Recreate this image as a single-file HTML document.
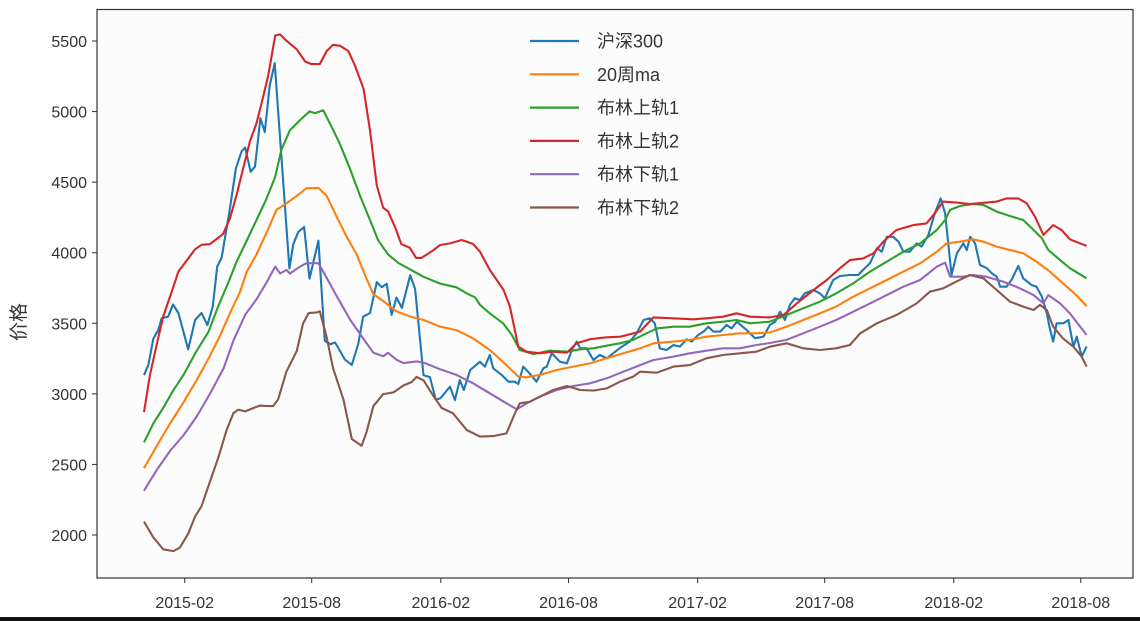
<!DOCTYPE html>
<html><head><meta charset="utf-8">
<style>
html,body{margin:0;padding:0;background:#fff;}
body{width:1140px;height:621px;overflow:hidden;position:relative;font-family:"WenQuanYi Zen Hei","Liberation Sans",sans-serif;}
#bottom-bar{position:absolute;left:0;top:617px;width:1140px;height:4px;background:#111;}
</style></head>
<body>
<svg id="chart" width="1140" height="617" xmlns="http://www.w3.org/2000/svg" style="position:absolute;left:0;top:0"></svg>
<div id="bottom-bar"></div>
<script>
// weeks since 2014-12-05
const closeW=[0,0.9,1.9,2.9,3.6,4.9,5.9,7,9,10.4,11.7,12.9,14,14.9,15.8,17.5,18.7,19.9,20.6,21.7,22.6,23.7,24.6,25.6,26.6,29.6,30.4,31.4,32.6,33.7,35.5,36.8,37.9,38.9,39.9,40.9,42.3,43.6,44.6,46,47.4,48.4,49.4,50.4,51.4,52.5,54.2,55.2,56.9,58.2,59.4,60.3,62.3,63.3,64.3,65.1,66.4,68.4,69.4,70.4,71.1,72.8,74.2,75.5,76.2,77.2,78.2,79.9,81.3,82,83,84.7,86.1,87.1,88.1,88.8,90.1,91.5,92.8,94.2,95.5,97.3,98.9,100.3,101.7,103,104,105,106.4,107.8,109.1,110.5,111.5,112.8,113.9,114.9,115.9,117.3,118.6,119.6,120.7,122.7,124.4,126.1,127.4,128.5,129.5,130.5,131.5,132.5,133.5,134.5,136.3,137.6,138.6,140.3,141.7,143.7,145.4,146.4,147.8,149.2,150.2,151.2,152.5,153.6,154.6,155.9,157.3,158.3,159.7,161,162.2,163.1,163.8,164.4,165.5,166.8,167.5,168.2,169.2,170.2,171.6,172.6,173.6,174.3,175.6,176.6,178,179,180.7,181.7,182.8,183.8,184.4,185.1,185.8,187.2,188.2,189.2,189.9,190.9,191.9];
const closeV=[3132,3206,3390,3450,3536,3547,3633,3573,3316,3523,3573,3487,3620,3902,3963,4317,4598,4720,4745,4573,4610,4953,4855,5185,5343,3889,4060,4146,4183,3816,4086,3376,3352,3364,3304,3243,3205,3352,3547,3573,3792,3756,3780,3560,3682,3609,3841,3743,3132,3119,2959,2968,3051,2956,3098,3027,3169,3228,3193,3275,3181,3134,3086,3086,3070,3193,3157,3086,3181,3193,3287,3228,3216,3311,3370,3323,3323,3240,3275,3252,3287,3335,3370,3429,3523,3535,3500,3323,3311,3346,3335,3387,3370,3417,3441,3476,3441,3441,3488,3464,3511,3452,3394,3405,3488,3511,3582,3523,3630,3677,3665,3712,3736,3712,3677,3807,3835,3842,3842,3878,3925,4031,4007,4113,4113,4078,4007,4007,4066,4043,4126,4279,4385,4279,4043,3842,3996,4066,4019,4113,4066,3913,3890,3854,3830,3759,3759,3807,3906,3819,3771,3759,3688,3571,3464,3370,3500,3500,3523,3335,3405,3263,3335];
const maW=[0,2.6,5.3,8,10.7,13.4,15.5,17.5,19.5,20.9,22.9,25,27,28.7,31.1,33.1,35.5,37.2,39.2,41.3,43.3,45.3,46.7,48.7,51.4,54.2,56.9,60.3,63.6,67,70.4,73.8,76.2,77.9,80.6,84,87.4,90.8,94.2,97.6,101,103.7,107.8,111.1,114.5,117.9,121.3,124.7,127.4,130.8,134.2,137.6,140.9,144.4,147.8,151.2,154.6,158,161.4,163.4,166.1,168.8,170.9,173.6,176.3,179,181.7,184.4,187.1,189.8,191.9];
const maV=[2473,2631,2790,2937,3096,3267,3413,3572,3719,3865,3987,4146,4305,4342,4403,4457,4459,4403,4256,4110,3987,3816,3707,3658,3584,3548,3523,3476,3452,3393,3311,3204,3122,3117,3134,3169,3193,3216,3252,3287,3323,3358,3370,3382,3405,3417,3429,3429,3435,3476,3523,3570,3618,3689,3748,3807,3866,3925,4007,4066,4078,4095,4078,4043,4019,3996,3937,3866,3783,3700,3622];
const up1W=[0,1.9,3.9,5.9,8,10.7,13.1,15.1,17.2,18.9,20.9,22.9,24.9,26.7,28,29.7,31.8,33.7,34.8,36.5,38.2,39.9,41.9,44,46,47.7,49.7,51.8,53.8,56.9,60.3,63.6,65.7,67.4,68.4,70.4,73.1,74.9,76.5,79.3,82.6,86.1,88.8,91.5,94.2,96.9,99.6,102.3,104.4,107.8,111.1,114.5,117.9,120.6,123.4,127.4,130.8,134.2,137.6,140.9,144.4,147.8,151.2,154.6,158,161.4,163.1,164.1,166.1,168.8,170.9,173.6,176.3,179,181.1,182.8,184.1,186.5,188.5,190.2,191.9];
const up1V=[2656,2791,2900,3022,3132,3304,3437,3620,3792,3939,4085,4232,4379,4537,4732,4867,4940,5001,4989,5009,4892,4769,4598,4402,4232,4085,3988,3927,3889,3829,3781,3755,3712,3684,3630,3571,3500,3417,3311,3282,3306,3299,3316,3323,3341,3358,3382,3429,3464,3476,3476,3500,3511,3523,3500,3511,3559,3606,3653,3712,3783,3866,3936,4007,4066,4161,4232,4303,4331,4345,4338,4291,4260,4232,4161,4102,4019,3948,3890,3854,3819];
const up2W=[0,1.2,2.6,3.9,5.6,7,8.3,10.4,11.7,13.4,14.8,16.1,17.5,18.9,20.2,21.6,22.9,24.3,25.3,26.7,27.7,29,31.1,32.8,34.1,35.8,37.2,38.5,39.9,41.6,42.9,44.7,46,47.4,48.7,49.7,51.1,52.4,54.1,55.4,56.5,58.6,60.3,62.3,64.7,67,68.4,70.4,73.2,74.5,76.2,77.9,80.6,83.3,86.1,88.1,90.8,94.2,97,101,103.7,107.8,111.8,114.5,117.9,120.6,123.4,127.4,130.2,132.9,136.3,139,141.7,143.7,146.4,148.5,150.5,153.2,156.6,159.3,161,162.7,165.4,168.1,171.5,173.6,175.6,178,179.7,181.4,183.1,185.1,186.8,188.5,190.2,191.9];
const up2V=[2870,3132,3352,3548,3719,3866,3927,4024,4056,4060,4097,4133,4244,4415,4598,4793,4916,5111,5258,5539,5547,5502,5441,5355,5336,5336,5429,5473,5466,5429,5331,5160,4867,4476,4318,4293,4183,4060,4036,3963,3963,4010,4055,4066,4090,4062,4007,3878,3736,3618,3335,3299,3287,3299,3292,3358,3387,3401,3405,3441,3542,3535,3528,3535,3547,3571,3547,3542,3559,3641,3736,3807,3890,3948,3960,3996,4078,4161,4196,4208,4279,4362,4355,4345,4355,4362,4385,4385,4350,4255,4126,4196,4161,4095,4071,4048];
const lo1W=[0,2.6,5.3,8,10.7,13.4,16.2,18.2,20.6,22.9,25,26.7,27.7,29,29.7,31.8,33.1,35.5,36.5,39.2,42,44.7,46.7,48.7,49.7,51.4,52.8,55.5,57.2,60.3,63.6,67,70.4,73.8,75.9,77.9,80.6,84,87.4,90.8,94.2,97.6,101,103.7,107.8,111.1,114.5,117.9,121.3,124.7,127.4,130.8,134.2,137.6,140.9,144.4,147.8,151.2,154.6,158,161.4,163.1,164.1,166.8,168.8,171.5,174.9,178.3,181.1,183.1,184.1,186.5,188.5,190.6,191.9];
const lo1V=[2314,2461,2595,2705,2839,2998,3181,3377,3560,3670,3792,3902,3853,3878,3853,3902,3926,3926,3865,3694,3523,3389,3291,3267,3291,3242,3218,3230,3218,3174,3134,3075,3004,2933,2890,2933,2980,3027,3056,3075,3110,3157,3204,3240,3264,3287,3306,3323,3323,3346,3360,3382,3429,3476,3523,3582,3641,3700,3759,3807,3901,3930,3830,3830,3842,3830,3795,3748,3700,3641,3700,3641,3570,3476,3417];
const lo2W=[0,1.9,3.9,6,7.3,9,10.4,11.7,13.4,15.1,16.8,18.2,19.2,20.6,22.3,23.6,25,26.3,27.3,29,31.1,32.4,33.5,35.2,35.8,37.2,38.5,40.6,42.3,44.3,45.3,46.7,48.7,50.8,52.8,54.5,55.5,56.9,58.9,60.6,62.9,65.7,68.4,71.1,73.8,75.5,76.5,78.6,80.6,83.3,86.1,88.8,91.5,94.2,96.9,99.6,101,104.4,107.8,111.1,114.5,117.9,121.3,124.7,127.4,130.8,134.2,137.6,140.9,143.7,145.8,149.2,153.2,157.3,160,162.7,165.4,168.1,170.9,173.6,176.3,179,181.1,182.4,183.8,185.1,187.1,189.2,190.9,191.9];
const lo2V=[2094,1984,1899,1886,1911,2009,2131,2204,2375,2546,2742,2864,2888,2876,2900,2917,2913,2913,2961,3157,3304,3499,3572,3577,3584,3401,3181,2961,2680,2632,2729,2913,2998,3010,3059,3084,3120,3096,2986,2900,2862,2744,2697,2701,2720,2862,2933,2945,2980,3027,3056,3027,3023,3039,3086,3122,3157,3150,3193,3204,3252,3275,3287,3299,3334,3358,3323,3311,3323,3346,3429,3500,3559,3641,3724,3748,3795,3842,3818,3736,3653,3618,3594,3630,3594,3476,3393,3334,3263,3193];
const yTicks=[2000,2500,3000,3500,4000,4500,5000,5500];
const xTickLabels=["2015-02","2015-08","2016-02","2016-08","2017-02","2017-08","2018-02","2018-08"];
const seriesNames=["沪深300","20周ma","布林上轨1","布林上轨2","布林下轨1","布林下轨2"];

const NS="http://www.w3.org/2000/svg";
const svg=document.getElementById('chart');
const L=97,T=9.5,R=1133,B=578;
const x0=144,pxPerWeek=4.912;
const startMs=Date.UTC(2014,11,5);
const FONT='WenQuanYi Zen Hei, Liberation Sans, sans-serif';
function xs(w){return x0+w*pxPerWeek;}
function ys(v){return 535-(v-2000)*(494/3500);}
function dateToWeek(s){const p=s.split('-');return (Date.UTC(+p[0],+p[1]-1,1)-startMs)/(7*86400000);}
function mk(tag,attrs,parent){const e=document.createElementNS(NS,tag);for(const k in attrs)e.setAttribute(k,attrs[k]);(parent||svg).appendChild(e);return e;}

const bg=mk('rect',{x:L,y:T,width:R-L,height:B-T,fill:'#fcfcfc'});



const colors=['#1f77b4','#ff7f0e','#2ca02c','#d62728','#9467bd','#8c564b'];
const data=[[closeW,closeV],[maW,maV],[up1W,up1V],[up2W,up2V],[lo1W,lo1V],[lo2W,lo2V]];
const lineNames=['line-hs300','line-ma20','line-upper-band-1','line-upper-band-2','line-lower-band-1','line-lower-band-2'];
const clip=mk('clipPath',{id:'clp'});mk('rect',{x:L,y:T,width:R-L,height:B-T},clip);
[0,1,2,3,4,5].forEach(i=>{
  const [W,V]=data[i];
  let d='';W.forEach((w,j)=>{d+=(j?'L':'M')+xs(w).toFixed(1)+','+ys(V[j]).toFixed(1);});
  const p=mk('path',{d:d,fill:'none',stroke:colors[i],'stroke-width':2.1,'stroke-linejoin':'round','clip-path':'url(#clp)'});
  
  
});

const frame=mk('rect',{x:L,y:T,width:R-L,height:B-T,fill:'none',stroke:'#333','stroke-width':1.2});



yTicks.forEach(v=>{
  const y=ys(v);
  const t=mk('line',{x1:L-5,x2:L,y1:y,y2:y,stroke:'#333','stroke-width':1});
  
  
  const lb=mk('text',{x:L-10,y:y+6,'text-anchor':'end','font-size':16,fill:'#333','font-family':FONT});
  lb.textContent=v;
  
  
});
xTickLabels.forEach(s=>{
  const x=xs(dateToWeek(s));
  const t=mk('line',{x1:x,x2:x,y1:B,y2:B+5,stroke:'#333','stroke-width':1});
  
  
  const lb=mk('text',{x:x,y:608,'text-anchor':'middle','font-size':16,fill:'#333','font-family':FONT});
  lb.textContent=s;
  
  
});
const yl=mk('text',{x:0,y:0,transform:'translate(25,322) rotate(-90)','text-anchor':'middle','font-size':19,fill:'#333','font-family':FONT});
yl.textContent='价格';



const lg=mk('g',{});


seriesNames.forEach((n,i)=>{
  const y=41+i*33.3;
  const g=mk('g',{},lg);
  
  
  mk('line',{x1:530,x2:579,y1:y,y2:y,stroke:colors[i],'stroke-width':2.2},g);
  const t=mk('text',{x:597,y:y+6.5,'font-size':18,fill:'#333','font-family':FONT},g);
  t.textContent=n;
});
</script>
</body></html>
